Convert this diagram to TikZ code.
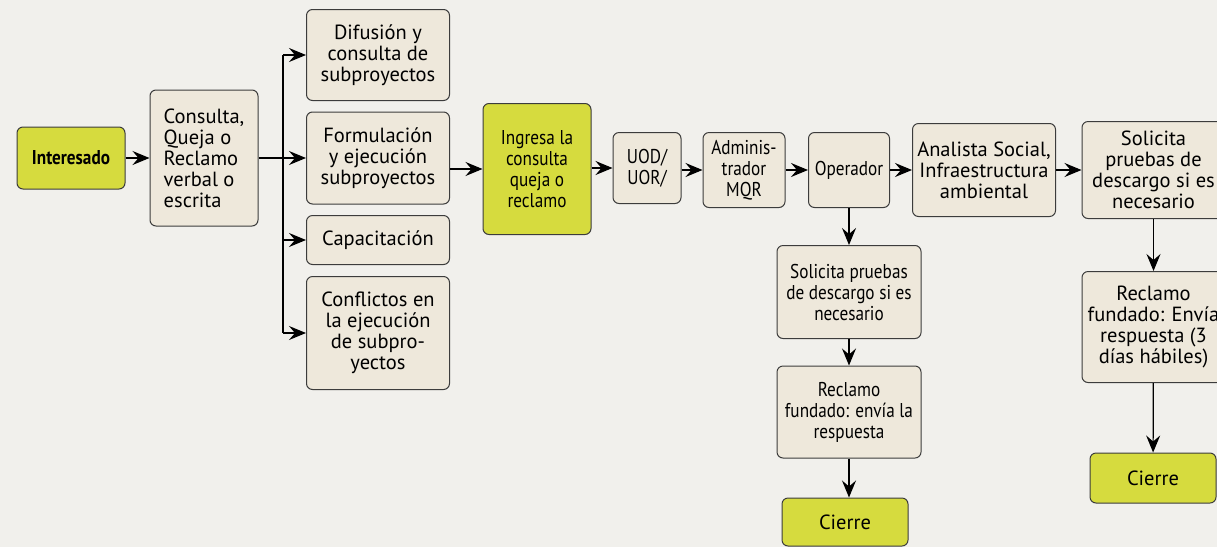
\documentclass[tikz,border=0pt]{standalone}
\usepackage{fontspec}
\setmainfont{PT Sans}
\newfontfamily\condfont{PT Sans}[FakeStretch=0.86]
\usetikzlibrary{arrows.meta}

\definecolor{paper}{HTML}{F1F0EC}
\definecolor{boxfill}{HTML}{EEE8DB}
\definecolor{hilite}{HTML}{D6DB3E}
\definecolor{edge}{HTML}{3C3C3C}

\tikzset{
	box/.style={draw=edge, fill=boxfill, rounded corners=6pt, line width=1pt,
		align=center, inner sep=2pt, font=\fontsize{20.5}{21}\selectfont},
	hibox/.style={box, fill=hilite},
	cond/.style={font=\condfont\fontsize{20}{21}\selectfont},
	link/.style={line width=1.2pt, -{Stealth[length=17pt,width=14pt,inset=6pt]}},
}

\begin{document}
\begin{tikzpicture}[x=1pt, y=-1pt]
			\clip (0,0) rectangle (1217,547);
			\fill[paper] (0,0) rectangle (1217,547);
			% left part
			\node[hibox, cond, minimum width=108pt, minimum height=62pt] (int) at (71,158) {\bfseries Interesado};
			\node[box, align=left, minimum width=108pt, minimum height=136pt] (cons) at (204,158) {Consulta,\\Queja o\\Reclamo\\verbal o\\escrita};
			\node[box, minimum width=143pt, minimum height=91pt] (dif) at (378,55) {Difusión y\\consulta de\\subproyectos};
			\node[box, minimum width=143pt, minimum height=92pt] (form) at (378,158) {Formulación\\y ejecución\\subproyectos};
			\node[box, minimum width=143pt, minimum height=49pt] (cap) at (378,240) {Capacitación};
			\node[box, minimum width=143pt, minimum height=113pt] (conf) at (378,333) {Conflictos en\\la ejecución\\de subpro-\\yectos};
			\coordinate (split) at (283,158);
			% main row
			\node[hibox, cond, minimum width=108pt, minimum height=131pt] (ingr) at (537,169) {Ingresa la\\consulta\\queja o\\reclamo};
			\node[box, cond, minimum width=68pt, minimum height=71pt] (uod) at (647,168) {UOD/\\UOR/};
			\node[box, cond, minimum width=82pt, minimum height=75pt] (adm) at (744,170) {Adminis-\\trador\\MQR};
			\node[box, cond, minimum width=81pt, minimum height=75pt] (oper) at (849,170) {Operador};
			\node[box, minimum width=143pt, minimum height=93pt] (anal) at (984,170) {Analista Social,\\Infraestructura\\ambiental};
			\node[box, minimum width=143pt, minimum height=97pt] (solr) at (1153.5,170) {Solicita\\pruebas de\\descargo si es\\necesario};
			% columns
			\node[box, minimum width=143pt, minimum height=111pt] (reclr) at (1153.5,327) {Reclamo\\fundado: Envía\\respuesta (3\\días hábiles)};
			\node[hibox, minimum width=126pt, minimum height=50pt] (cierr) at (1153,478) {Cierre};
			\node[box, cond, minimum width=144pt, minimum height=93pt] (solm) at (849,292) {Solicita pruebas\\de descargo si es\\necesario};
			\node[box, cond, minimum width=144pt, minimum height=92pt] (reclm) at (849,412) {Reclamo\\fundado: envía la\\respuesta};
			\node[hibox, minimum width=126pt, minimum height=48pt] (cierm) at (845,522) {Cierre};
			% connectors
			\draw[link] (int) -- (cons);
			\draw[line width=1.2pt] (cons.east) -- (split);
			\draw[line width=1.2pt] (split |- dif.west) -- (split |- conf.west);
			\foreach \b in {dif, form, cap, conf}
				\draw[link] (split |- \b.west) -- (\b.west);
			\draw[link] (form.east |- ingr.west) -- (ingr.west);
			\draw[link] (ingr.east |- uod.west) -- (uod.west);
			\draw[link] (uod.east |- adm.west) -- (adm.west);
			\draw[link] (adm) -- (oper);
			\draw[link] (oper) -- (anal);
			\draw[link] (anal) -- (anal -| solr.west);
			\draw[link] (oper) -- (solm);
			\draw[link] (solm) -- (reclm);
			\draw[link] (reclm.south) -- (reclm.south |- cierm.north);
			\draw[link] (solr) -- (reclr);
			\draw[link] (reclr) -- (cierr);
		\end{tikzpicture}
\end{document}
